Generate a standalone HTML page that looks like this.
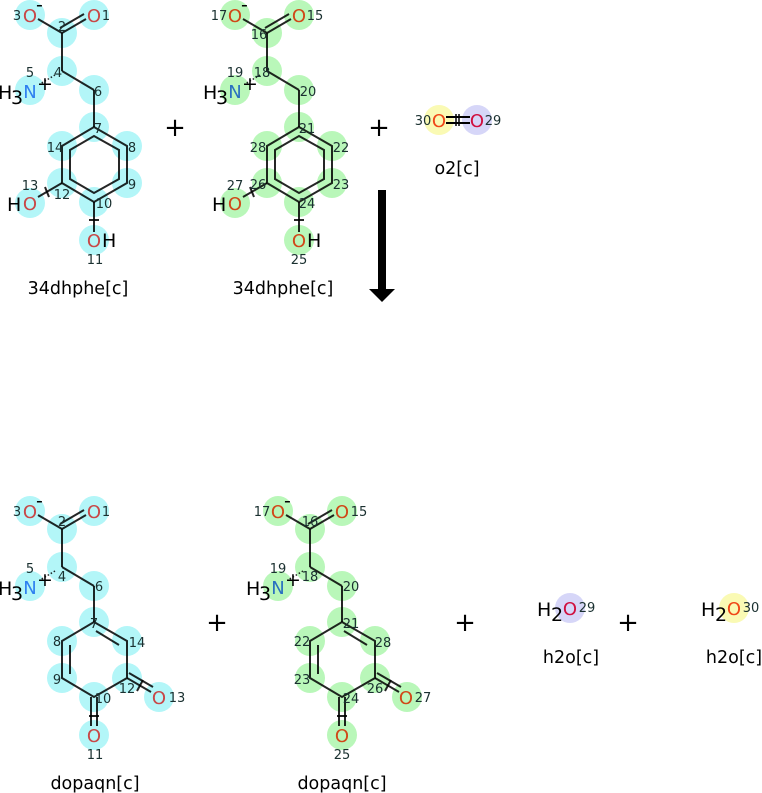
<!DOCTYPE html>
<html><head><meta charset="utf-8"><style>
html,body{margin:0;padding:0;background:#fff;width:762px;height:793px;overflow:hidden}
svg{display:block;font-family:"DejaVu Sans","Liberation Sans",sans-serif}
.n{font-size:13px;fill:#1a3030;text-anchor:middle}
.o{font-size:18px;fill:#c84848;text-anchor:middle}
.og{font-size:18px;fill:#d04818;text-anchor:middle}
.nb{font-size:18px;fill:#2f80f0;text-anchor:middle}
.nbg{font-size:18px;fill:#2a70c0;text-anchor:middle}
.k{font-size:19px;fill:#000}
.lbl{font-size:17.5px;fill:#000;text-anchor:middle}
.pl{font-size:26px;fill:#000;text-anchor:middle}
</style></head><body>
<svg width="762" height="793" viewBox="0 0 762 793">
<defs>
<g id="ct">
<circle cx="30" cy="15" r="15"/><circle cx="94" cy="15" r="15"/><circle cx="62" cy="33" r="15"/>
<circle cx="62" cy="71" r="15"/><circle cx="30" cy="90" r="15"/><circle cx="94" cy="90" r="15"/>
<circle cx="94" cy="127" r="15"/><circle cx="127" cy="146" r="15"/><circle cx="127" cy="183" r="15"/>
<circle cx="94" cy="202" r="15"/><circle cx="62" cy="183" r="15"/><circle cx="62" cy="146" r="15"/>
<circle cx="30" cy="203" r="15"/><circle cx="94" cy="240" r="15"/>
</g>
<g id="bt" stroke="#000" stroke-width="2" fill="none" stroke-opacity="0.85">
<line x1="62" y1="33" x2="38" y2="19"/><line x1="62" y1="33" x2="86" y2="19"/><line x1="60" y1="28" x2="84" y2="14"/>
<line x1="62" y1="33" x2="62" y2="71"/><line x1="62" y1="71" x2="94" y2="90"/><line x1="94" y1="90" x2="94" y2="127"/>
<line x1="55" y1="75" x2="40" y2="84" stroke-dasharray="1.5 2" stroke-width="1.5"/>
<polygon points="94,127 127,146 127,183 94,202 62,183 62,146"/>
<polygon points="94,136 119,150 119,179 94,193 70,179 70,150"/>
<line x1="62" y1="183" x2="38" y2="197"/><line x1="45" y1="187" x2="49" y2="197"/>
<line x1="94" y1="202" x2="94" y2="232"/><line x1="89" y1="220" x2="99" y2="220"/>
</g>
<g id="cb">
<circle cx="30" cy="511" r="15"/><circle cx="94" cy="511" r="15"/><circle cx="62" cy="529" r="15"/>
<circle cx="62" cy="567" r="15"/><circle cx="30" cy="586" r="15"/><circle cx="94" cy="586" r="15"/>
<circle cx="94" cy="622" r="15"/><circle cx="62" cy="641" r="15"/><circle cx="127" cy="641" r="15"/>
<circle cx="62" cy="678" r="15"/><circle cx="127" cy="678" r="15"/><circle cx="94" cy="697" r="15"/>
<circle cx="159" cy="697" r="15"/><circle cx="94" cy="735" r="15"/>
</g>
<g id="bb" stroke="#000" stroke-width="2" fill="none" stroke-opacity="0.85">
<line x1="62" y1="529" x2="38" y2="515"/><line x1="62" y1="529" x2="86" y2="515"/><line x1="60" y1="524" x2="84" y2="510"/>
<line x1="62" y1="529" x2="62" y2="567"/><line x1="62" y1="567" x2="94" y2="586"/><line x1="94" y1="586" x2="94" y2="622"/>
<line x1="55" y1="571" x2="40" y2="580" stroke-dasharray="1.5 2" stroke-width="1.5"/>
<polygon points="94,622 127,641 127,678 94,697 62,678 62,641"/>
<line x1="96" y1="631" x2="119" y2="645"/><line x1="70" y1="645" x2="70" y2="674"/>
<line x1="127" y1="678" x2="151" y2="692"/><line x1="129" y1="673" x2="153" y2="687"/><line x1="137" y1="691" x2="143" y2="680"/>
<line x1="91" y1="697" x2="91" y2="726"/><line x1="97" y1="697" x2="97" y2="726"/><line x1="89" y1="716" x2="99" y2="716"/>
</g>
</defs>

<use href="#ct" fill="#b3f6f8"/>
<use href="#bt"/>
<text class="o" x="30" y="22">O</text><text class="n" x="17" y="20">3</text><text class="k" x="36" y="11" font-size="20">-</text>
<text class="o" x="94" y="22">O</text><text class="n" x="106" y="20">1</text>
<text class="n" x="62" y="31">2</text><text class="n" x="58" y="77">4</text>
<text class="k" x="-2" y="99">H</text><text class="k" x="11" y="104" font-size="19">3</text><text class="nb" x="30" y="98">N</text>
<text class="n" x="30" y="77">5</text><text class="k" x="37" y="90" font-size="24">+</text>
<text class="n" x="98" y="96">6</text><text class="n" x="98" y="133">7</text><text class="n" x="132" y="152">8</text>
<text class="n" x="132" y="189">9</text><text class="n" x="104" y="208">10</text><text class="n" x="62" y="199">12</text><text class="n" x="55" y="152">14</text>
<text class="k" x="7" y="211">H</text><text class="o" x="30" y="210">O</text><text class="n" x="30" y="190">13</text>
<text class="o" x="94" y="247">O</text><text class="k" x="102" y="247">H</text><text class="n" x="95" y="264">11</text>
<text class="lbl" x="78" y="294">34dhphe[c]</text>

<g transform="translate(205,0)"><use href="#ct" fill="#b9f7b9"/><use href="#bt"/></g>
<text class="og" x="235" y="22">O</text><text class="n" x="219" y="20">17</text><text class="k" x="241" y="11" font-size="20">-</text>
<text class="og" x="299" y="22">O</text><text class="n" x="315" y="20">15</text>
<text class="n" x="259" y="39">16</text><text class="n" x="262" y="77">18</text>
<text class="k" x="203" y="99">H</text><text class="k" x="216" y="104" font-size="19">3</text><text class="nbg" x="235" y="98">N</text>
<text class="n" x="235" y="77">19</text><text class="k" x="242" y="90" font-size="24">+</text>
<text class="n" x="308" y="96">20</text><text class="n" x="307" y="133">21</text><text class="n" x="341" y="152">22</text>
<text class="n" x="341" y="189">23</text><text class="n" x="307" y="208">24</text><text class="n" x="258" y="189">26</text><text class="n" x="258" y="152">28</text>
<text class="k" x="212" y="211">H</text><text class="og" x="235" y="210">O</text><text class="n" x="235" y="190">27</text>
<text class="og" x="299" y="247">O</text><text class="k" x="307" y="247">H</text><text class="n" x="299" y="264">25</text>
<text class="lbl" x="283" y="294">34dhphe[c]</text>

<circle cx="439" cy="120" r="15" fill="#fafab4"/><circle cx="477" cy="120" r="15" fill="#d6d6f8"/>
<line x1="446" y1="117" x2="470" y2="117" stroke="#000" stroke-width="2"/><line x1="446" y1="123" x2="470" y2="123" stroke="#000" stroke-width="2"/>
<line x1="456" y1="114" x2="456" y2="126" stroke="#000" stroke-width="1.5"/><line x1="459" y1="114" x2="459" y2="126" stroke="#000" stroke-width="1.5"/>
<text class="n" x="423" y="125">30</text><text x="439" y="127" font-size="18" fill="#f04818" text-anchor="middle">O</text>
<text x="477" y="127" font-size="18" fill="#d01040" text-anchor="middle">O</text><text class="n" x="493" y="125">29</text>
<text class="lbl" x="457" y="174">o2[c]</text>

<text class="pl" x="175" y="136">+</text><text class="pl" x="379" y="136">+</text>
<rect x="378" y="190" width="8" height="100" fill="#000"/><polygon points="369,289 395,289 382,302" fill="#000"/>

<use href="#cb" fill="#b3f6f8"/>
<use href="#bb"/>
<text class="o" x="30" y="518">O</text><text class="n" x="17" y="516">3</text><text class="k" x="36" y="507" font-size="20">-</text>
<text class="o" x="94" y="518">O</text><text class="n" x="106" y="516">1</text>
<text class="n" x="62" y="526">2</text><text class="n" x="62" y="581">4</text>
<text class="k" x="-2" y="595">H</text><text class="k" x="11" y="600" font-size="19">3</text><text class="nb" x="30" y="594">N</text>
<text class="n" x="30" y="573">5</text><text class="k" x="37" y="586" font-size="24">+</text>
<text class="n" x="99" y="591">6</text><text class="n" x="94" y="628">7</text><text class="n" x="57" y="646">8</text>
<text class="n" x="57" y="684">9</text><text class="n" x="103" y="703">10</text><text class="n" x="127" y="693">12</text><text class="n" x="137" y="647">14</text>
<text class="o" x="159" y="704">O</text><text class="n" x="177" y="702">13</text>
<text class="o" x="94" y="742">O</text><text class="n" x="95" y="759">11</text>
<text class="lbl" x="95" y="789">dopaqn[c]</text>

<g transform="translate(248,0)"><use href="#cb" fill="#b9f7b9"/><use href="#bb"/></g>
<text class="og" x="278" y="518">O</text><text class="n" x="262" y="516">17</text><text class="k" x="284" y="507" font-size="20">-</text>
<text class="og" x="342" y="518">O</text><text class="n" x="359" y="516">15</text>
<text class="n" x="310" y="526">16</text><text class="n" x="310" y="581">18</text>
<text class="k" x="246" y="595">H</text><text class="k" x="259" y="600" font-size="19">3</text><text class="nbg" x="278" y="594">N</text>
<text class="n" x="278" y="573">19</text><text class="k" x="285" y="586" font-size="24">+</text>
<text class="n" x="351" y="591">20</text><text class="n" x="351" y="628">21</text><text class="n" x="302" y="646">22</text>
<text class="n" x="302" y="684">23</text><text class="n" x="351" y="703">24</text><text class="n" x="375" y="693">26</text><text class="n" x="383" y="647">28</text>
<text class="og" x="406" y="704">O</text><text class="n" x="423" y="702">27</text>
<text class="og" x="342" y="742">O</text><text class="n" x="342" y="759">25</text>
<text class="lbl" x="342" y="789">dopaqn[c]</text>

<text class="pl" x="217" y="631">+</text><text class="pl" x="465" y="631">+</text><text class="pl" x="628" y="631">+</text>

<circle cx="570" cy="608" r="15" fill="#d6d6f8"/>
<text class="k" x="537" y="616">H</text><text class="k" x="551" y="621" font-size="19">2</text>
<text x="570" y="615" font-size="18" fill="#d01040" text-anchor="middle">O</text><text class="n" x="587" y="612">29</text>
<text class="lbl" x="571" y="663">h2o[c]</text>
<circle cx="734" cy="608" r="15" fill="#fafab4"/>
<text class="k" x="701" y="616">H</text><text class="k" x="715" y="621" font-size="19">2</text>
<text x="734" y="615" font-size="18" fill="#f04818" text-anchor="middle">O</text><text class="n" x="751" y="612">30</text>
<text class="lbl" x="734" y="663">h2o[c]</text>
</svg>
</body></html>
